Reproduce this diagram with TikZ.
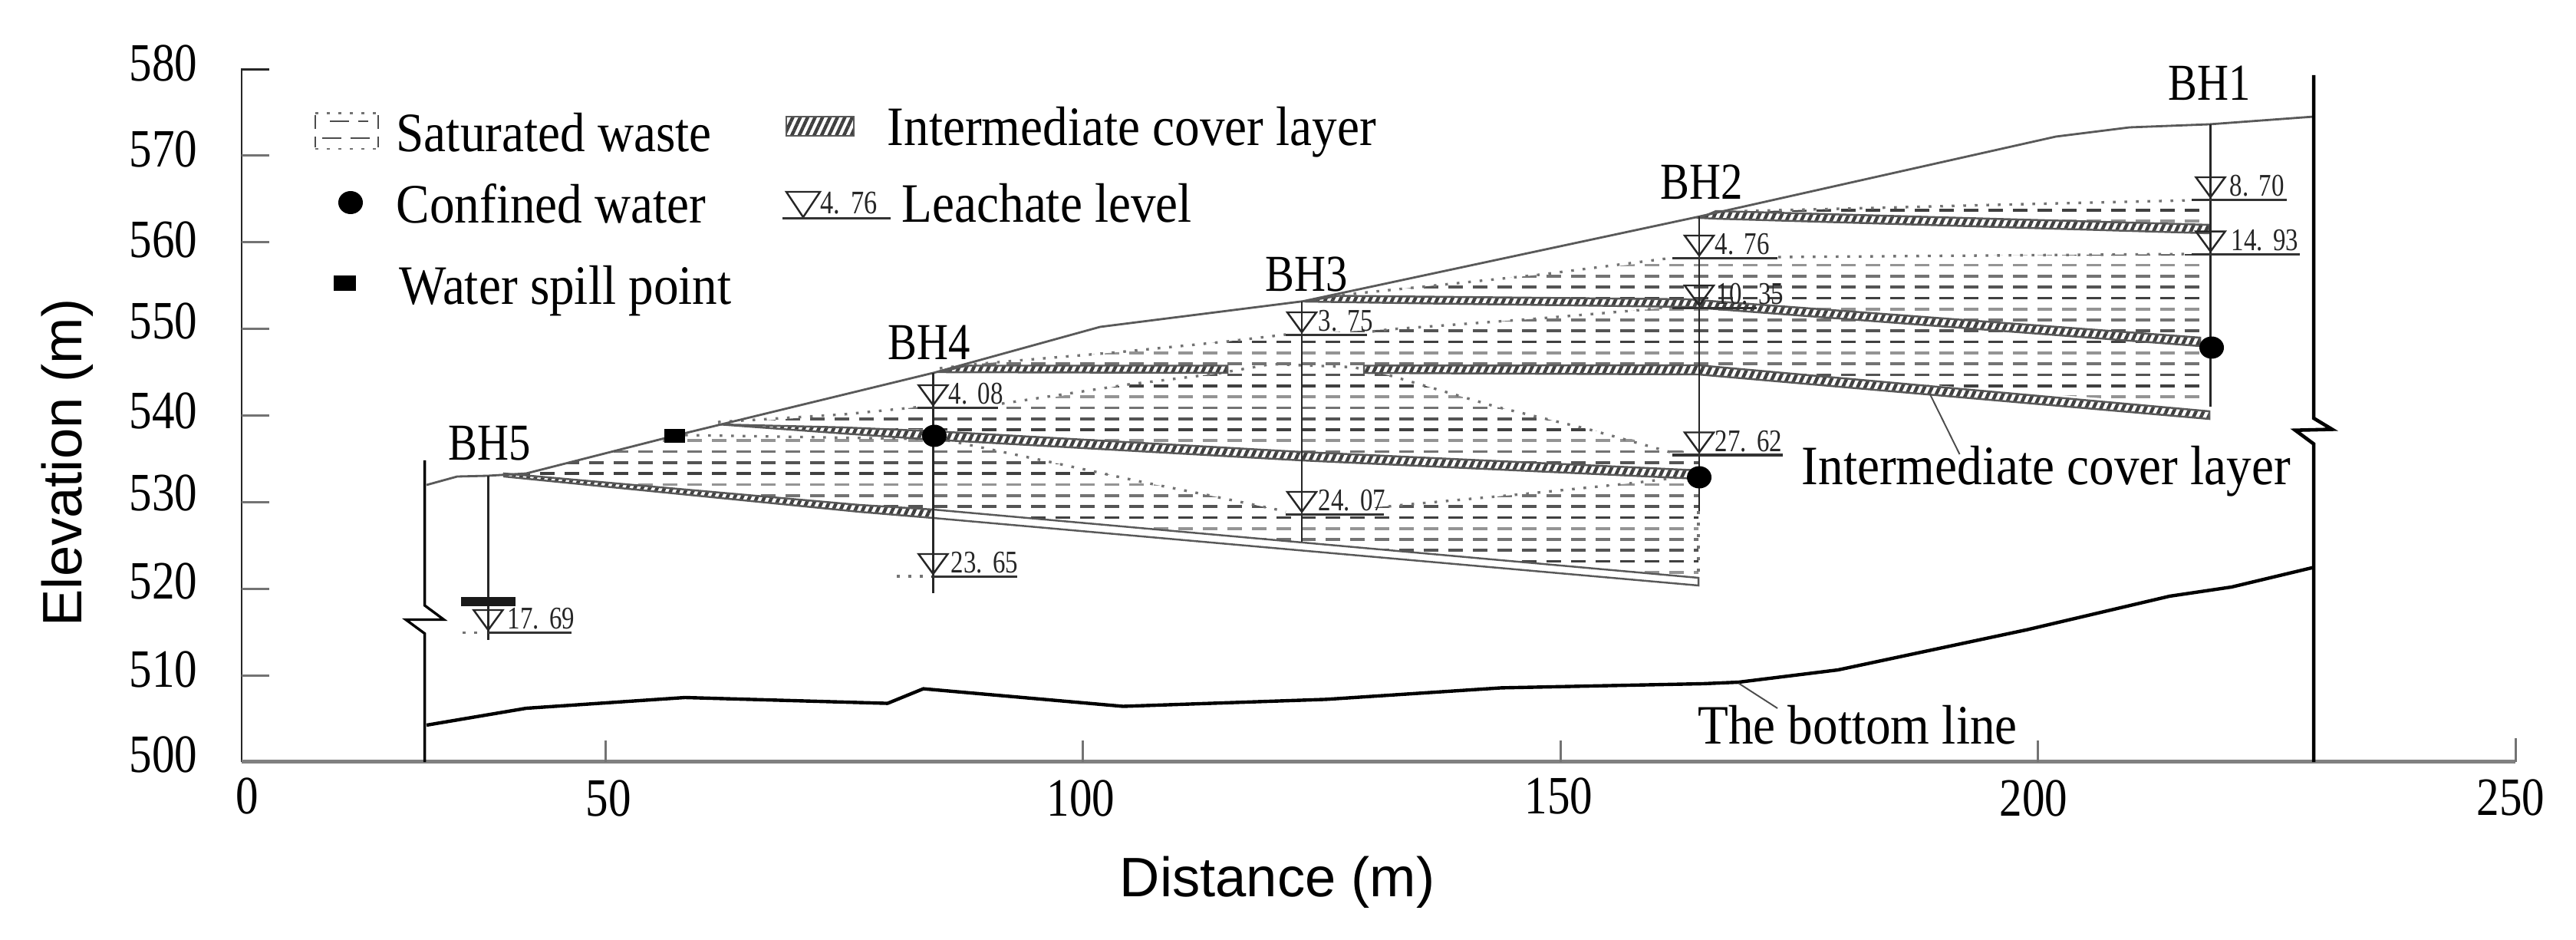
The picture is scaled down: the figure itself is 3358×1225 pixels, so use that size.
\documentclass[tikz,border=0pt]{standalone}
\usepackage{fontspec}
\setmainfont{Liberation Serif}
\newfontfamily\narrowser[FakeStretch=0.84]{Liberation Serif}
\newfontfamily\lgser[FakeStretch=0.9]{Liberation Serif}
\newfontfamily\lvlser[FakeStretch=0.8]{Liberation Serif}
\newfontfamily\axsans{Liberation Sans}
\usetikzlibrary{patterns.meta}
\definecolor{rowA}{gray}{0.25}
\definecolor{rowB}{gray}{0.58}
\definecolor{rowC}{gray}{0.45}
\definecolor{rowD}{gray}{0.33}
\newcommand{\lgap}{\hspace{0.32em}}
\tikzset{
  axisline/.style={line width=0.85pt,draw=black!85},
  baseaxis/.style={line width=1.2pt,draw=black!50},
  tickline/.style={line width=0.85pt,draw=black!55},
  thinline/.style={line width=0.8pt,draw=black!85},
  ground/.style={line width=0.8pt,draw=black!65,line join=round},
  bedline/.style={line width=1.25pt,draw=black,line join=round},
  heavy/.style={line width=0.95pt,draw=black,line join=miter},
  dots/.style={line width=0.95pt,draw=black!55,dash pattern=on 1pt off 3.27pt},
  wasterow/.style={line width=1.05pt,dash pattern=on 5.4pt off 3.7pt},
  coverband/.style={draw=black!65,line width=0.7pt,preaction={fill=white},
    pattern={Lines[angle=65,distance=2.5pt,line width=1.25pt]},pattern color=black!75},
  whiteband/.style={draw=black!65,line width=0.7pt,fill=white},
  numx/.style={inner sep=0pt,font=\narrowser\fontsize{20pt}{21pt}\selectfont},
  lgtext/.style={inner sep=0pt,anchor=base west,font=\lgser\fontsize{20.6pt}{22pt}\selectfont},
  bhtext/.style={inner sep=0pt,anchor=base west,font=\narrowser\fontsize{19.2pt}{20pt}\selectfont},
  lvltext/.style={inner sep=0pt,anchor=west,font=\lvlser\fontsize{11.7pt}{12pt}\selectfont,text=black!85},
  sanstext/.style={inner sep=0pt,font=\axsans\fontsize{20.6pt}{22pt}\selectfont},
}
\newcommand{\wrows}{%
  \foreach \k in {0,4,...,36}{\draw[wasterow,rowA] (0,{274+14.3*\k}) -- (3000,{274+14.3*\k});}
  \foreach \k in {1,5,...,36}{\draw[wasterow,rowB] (0,{274+14.3*\k}) -- (3000,{274+14.3*\k});}
  \foreach \k in {2,6,...,36}{\draw[wasterow,rowC] (0,{274+14.3*\k}) -- (3000,{274+14.3*\k});}
  \foreach \k in {3,7,...,36}{\draw[wasterow,rowD] (0,{274+14.3*\k}) -- (3000,{274+14.3*\k});}
}
\newcommand{\lvlmark}[7]{%
  \draw[line width=0.7pt,draw=black!85] ({#2-19},#3) -- ({#2+19},#3) -- (#2,{#3+26}) -- cycle;
  \draw[line width=0.9pt,draw=black!80] (#4,{#3+29.5}) -- (#5,{#3+29.5});
  \node[lvltext] (#1) at (#6,{#3+11.5}) {#7};
}
\begin{document}
\begin{tikzpicture}[x=0.01cm,y=-0.01cm]
\useasboundingbox (0,0) rectangle (3358,1225);
\fill[white] (0,0) rectangle (3358,1225);

% axes
\draw[axisline] (351,90.5) -- (315,90.5) -- (315,993);
\draw[baseaxis] (315,992.5) -- (3279,992.5);
\foreach \yy in {203,316,428.6,541.7,654.4,767.5,880.6}{\draw[tickline] (315,\yy) -- (351,\yy);}
\foreach \xx in {789,1411,2034,2656}{\draw[tickline] (\xx,993) -- (\xx,965);}
\draw[tickline] (3279,993) -- (3279,962);
\foreach \nm/\lab/\yy in {a/580/82,b/570/194,c/560/312,d/550/418,e/540/535,f/530/642.5,g/520/757,h/510/872,i/500/983.5}{
  \node[numx] (y\nm) at (213,\yy) {\lab};}
\foreach \nm/\lab/\xx/\yy in {a/0/322/1037,b/50/793/1040,c/100/1409/1040,d/150/2032/1037,e/200/2651/1040,f/250/3273/1039}{
  \node[numx] (x\nm) at (\xx,\yy) {\lab};}
\node[sanstext,rotate=90] (ytitle) at (88,603) {Elevation (m)};
\node[sanstext,anchor=base west] (xtitle) at (1459,1168) {Distance (m)};

% saturated waste rows
\begin{scope}\clip (2240,277) -- (2400,272) -- (2599,267) -- (2881,261) -- (2881,300) -- cycle; \wrows \end{scope}
\begin{scope}\clip (1700,393) -- (1757,383.5) -- (1871,372) -- (2007,358) -- (2214,335) -- (2318,335) -- (2881,331) -- (2881,445) -- (2220,395) -- cycle; \wrows \end{scope}
\begin{scope}\clip (1225,480) -- (1271,474.5) -- (1457,459) -- (1600,445) -- (1676,436) -- (1814,429) -- (2007,415) -- (2150,403) -- (2214,395) -- (2881,445) -- (2881,530) -- (2214,478) -- cycle; \wrows \end{scope}
\begin{scope}\clip (936,553) -- (1100,540) -- (1196,530.6) -- (1301,530) -- (1471,501) -- (1586,487) -- (1657,474.5) -- (1764,478.5) -- (1814,490) -- (1950,530) -- (2071,559.5) -- (2214,592) -- (2214,615) -- (1697,590) -- (1218,560) -- cycle; \wrows \end{scope}
\begin{scope}\clip (657,619) -- (686,617) -- (878,568) -- (893,567) -- (1218,572) -- (1250,577) -- (1364,601) -- (1493,629) -- (1571,644.5) -- (1664,664) -- (1697,669) -- (1829,658) -- (1979,644.5) -- (2129,629.5) -- (2214,619) -- (2214,753) -- (1214,664) -- cycle; \wrows \end{scope}

% dotted upper limits of the saturated waste
\draw[dots] (2274,275) -- (2400,272) -- (2599,267) -- (2857,261);
\draw[dots] (1720,390) -- (1757,383.5) -- (1871,372) -- (2007,358) -- (2180,336);
\draw[dots] (2318,335) -- (2857,331);
\draw[dots] (1225,480) -- (1271,474.5) -- (1457,459) -- (1600,445) -- (1676,436);
\draw[dots] (1789,432) -- (1814,429) -- (2007,415) -- (2150,403) -- (2214,395);
\draw[dots] (936,550) -- (1100,540) -- (1196,530.6);
\draw[dots] (1306,526) -- (1471,501) -- (1586,487) -- (1657,474.5) -- (1764,478.5) -- (1814,490) -- (1950,530) -- (2071,559.5) -- (2180,590);
\draw[dots] (893,567) -- (1200,572);
\draw[dots] (1235,574) -- (1250,577) -- (1364,601) -- (1493,629) -- (1571,644.5) -- (1664,664) -- (1676,667);
\draw[dots] (1810,660) -- (1829,658) -- (1979,644.5) -- (2129,629.5) -- (2214,619);
\draw[dots] (2214,666) -- (2214,753);
\draw[dots] (603,824.5) -- (630,824.5);
\draw[dots] (1169,751) -- (1210,751);

% cover layers
\draw[coverband] (657,617) -- (1120,658) -- (1216,664) -- (1216,675) -- (1120,667) -- (657,621) -- cycle;
\draw[whiteband] (1216,664) -- (2214,753) -- (2214,763) -- (1216,675) -- cycle;
\draw[coverband] (936,553) -- (1100,557) -- (1218,562) -- (1697,589) -- (2214,613) -- (2214,624) -- (1697,600) -- (1218,573) -- (1100,565) -- cycle;
\draw[coverband] (1225,485) -- (1260,476.5) -- (1600,476.5) -- (1600,486) -- cycle;
\draw[coverband] (1778,476.5) -- (2214,476) -- (2880,536) -- (2880,546) -- (2214,488) -- (1778,486) -- cycle;
\draw[coverband] (1700,393) -- (1745,385.5) -- (2200,390) -- (2868,440) -- (2868,451) -- (2200,400) -- (1900,396) -- cycle;
\draw[coverband] (2216,284) -- (2237,275) -- (2880,293) -- (2880,304) -- (2237,285) -- cycle;

% ground and bottom lines
\draw[ground] (556,632) -- (596,621) -- (636,620) -- (686,617) -- (878.6,568) -- (1218,485.6) -- (1434,426) -- (1698.6,392.6) -- (2216,282) -- (2680,178) -- (2776,166) -- (2880,162) -- (3016,152);
\draw[bedline] (556,945) -- (686,923) -- (893,909) -- (1157,916.6) -- (1203.6,897.6) -- (1464,920.5) -- (1728.6,911.4) -- (1957,896.4) -- (2220,891) -- (2266.5,889) -- (2396,873) -- (2643,820.5) -- (2828,777) -- (2909,765) -- (3016,739.4);

% break lines
\draw[heavy] (553.6,600) -- (553.6,789) -- (578.6,807.5) -- (529,807.5) -- (553.6,825.6) -- (553.6,993);
\draw[line width=1.3pt,draw=black] (3016,98) -- (3016,545) -- (3040,559.5) -- (2992,560.7) -- (3016,578.5) -- (3016,993);

% boreholes
\draw[thinline] (636.4,620) -- (636.4,833.5);
\draw[thinline] (1216.4,485.6) -- (1216.4,773);
\draw[thinline] (1697,392.6) -- (1697,706);
\draw[thinline] (2215,282) -- (2215,666);
\draw[thinline] (2881.5,162) -- (2881.5,530);

% markers on the section
\fill[black] (1218,568) ellipse (16 and 14.5);
\fill[black] (2883,453) ellipse (16 and 14.5);
\fill[black] (2215,622) ellipse (16 and 14.5);
\fill[black] (866,559) rectangle (893,577);
\fill[black!90] (601,778) rectangle (672,790);

% leachate levels
\lvlmark{lva}{2881.5}{231}{2857}{2981}{2906}{8.\lgap 70}
\lvlmark{lvb}{2881.5}{301.7}{2857}{2998}{2908}{14.\lgap 93}
\lvlmark{lvc}{2215}{307}{2180}{2317}{2235}{4.\lgap 76}
\lvlmark{lvd}{2215}{372}{2180}{2290}{2237}{10.\lgap 35}
\lvlmark{lve}{2215}{563.5}{2180}{2324}{2235}{27.\lgap 62}
\lvlmark{lvf}{1697}{407}{1676}{1782}{1718}{3.\lgap 75}
\lvlmark{lvg}{1697}{641}{1676}{1804}{1718}{24.\lgap 07}
\lvlmark{lvh}{1216.4}{502}{1196}{1301}{1236}{4.\lgap 08}
\lvlmark{lvi}{1216.4}{722}{1214}{1326}{1239}{23.\lgap 65}
\lvlmark{lvj}{636.4}{795}{636}{745}{661}{17.\lgap 69}

% borehole names
\node[bhtext] (bha) at (2826,131) {BH1};
\node[bhtext] (bhb) at (2164,260) {BH2};
\node[bhtext] (bhc) at (1649,380) {BH3};
\node[bhtext] (bhd) at (1157,468.6) {BH4};
\node[bhtext] (bhe) at (584,600) {BH5};

% legend
\draw[dots,line width=0.8pt] (411,147.5) -- (493,147.5);
\draw[dots,line width=0.8pt] (411,194) -- (493,194);
\draw[line width=0.8pt,draw=black!70,dash pattern=on 5pt off 3pt] (411,150) -- (411,192);
\draw[line width=0.8pt,draw=black!70,dash pattern=on 5pt off 3pt] (493,150) -- (493,192);
\draw[line width=0.8pt,draw=black!70,dash pattern=on 7pt off 3.5pt] (430,158) -- (480,158);
\draw[line width=0.8pt,draw=black!70,dash pattern=on 7pt off 3.5pt] (420,180) -- (490,180);
\node[lgtext] (lgsat) at (516,197.7) {Saturated waste};
\fill[black] (457,264) ellipse (16 and 15);
\node[lgtext] (lgcon) at (516,290.6) {Confined water};
\fill[black] (435,359) rectangle (464,379);
\node[lgtext] (lgspi) at (520,397) {Water spill point};
\draw[coverband] (1025,152) rectangle (1113,177);
\node[lgtext] (lgcov) at (1156,190) {Intermediate cover layer};
\draw[line width=0.7pt,draw=black!85] (1025,250) -- (1069,250) -- (1047,283) -- cycle;
\draw[line width=0.9pt,draw=black!80] (1020,284.7) -- (1161,284.7);
\node[lvltext,font=\lvlser\fontsize{12.2pt}{13pt}\selectfont] (lgnum) at (1069,265) {4.\lgap 76};
\node[lgtext] (lglea) at (1175,290) {Leachate level};

% annotations
\node[lgtext] (ancov) at (2348,632) {Intermediate cover layer};
\coordinate (ancovp) at (2514,510);
\draw[line width=0.55pt,draw=black!70] (ancovp) -- (2554.5,592);
\node[lgtext] (anbot) at (2212.5,969) {The bottom line};
\coordinate (anbotp) at (2266.5,890.5);
\draw[line width=0.55pt,draw=black!70] (anbotp) -- (2317,923);
\end{tikzpicture}
\end{document}
